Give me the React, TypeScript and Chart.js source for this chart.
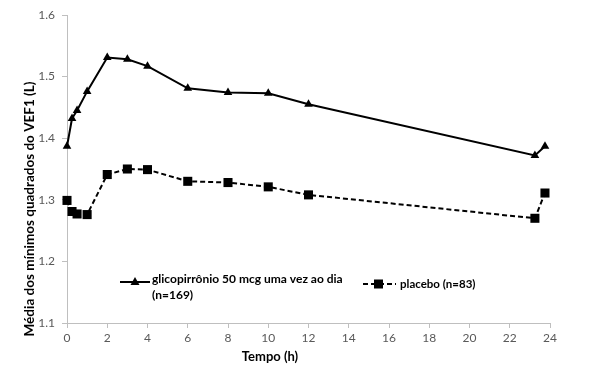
import React, { useEffect, useRef } from "react";
import { Chart, registerables } from "chart.js";

Chart.register(...registerables);

const hours = [0, 0.25, 0.5, 1, 2, 3, 4, 6, 8, 10, 12, 23.25, 23.75];
const glicoValues = [1.387, 1.432, 1.445, 1.476, 1.531, 1.528, 1.517, 1.481, 1.474, 1.473, 1.455, 1.372, 1.387];
const placeboValues = [1.299, 1.281, 1.277, 1.276, 1.341, 1.350, 1.349, 1.330, 1.328, 1.321, 1.308, 1.270, 1.311];
const glicoLabel = ["glicopirrônio 50 mcg uma vez ao dia", "(n=169)"];
const placeboLabel = "placebo (n=83)";
const yTitle = "Média dos mínimos quadrados do VEF1 (L)";
const xTitle = "Tempo (h)";

const FONT = "Lato, 'Liberation Sans', sans-serif";

const annotationPlugin = {
  id: "customLegendTitles",
  afterDraw(chart: any) {
    const ctx = chart.ctx;
    ctx.save();
    ctx.fillStyle = "#000";
    ctx.strokeStyle = "#000";
    ctx.lineWidth = 2;
    // glico sample
    const y1 = 282;
    ctx.setLineDash([]);
    ctx.beginPath();
    ctx.moveTo(120, y1);
    ctx.lineTo(150, y1);
    ctx.stroke();
    const tx = 135, tr = 5;
    ctx.beginPath();
    ctx.moveTo(tx, y1 - tr);
    ctx.lineTo(tx + tr * 0.9, y1 + tr * 0.6);
    ctx.lineTo(tx - tr * 0.9, y1 + tr * 0.6);
    ctx.closePath();
    ctx.fill();
    ctx.font = "bold 12px " + FONT;
    ctx.textBaseline = "middle";
    ctx.textAlign = "left";
    ctx.fillText(glicoLabel[0], 152, 279);
    ctx.fillText(glicoLabel[1], 152, 295);
    // placebo sample
    const y2 = 284;
    ctx.setLineDash([5, 3]);
    ctx.beginPath();
    ctx.moveTo(363, y2);
    ctx.lineTo(396, y2);
    ctx.stroke();
    ctx.setLineDash([]);
    ctx.fillRect(374, y2 - 4.5, 9, 9);
    ctx.font = "bold 11.5px " + FONT;
    ctx.fillText(placeboLabel, 400, 284);
    // axis titles
    ctx.font = "bold 13px " + FONT;
    ctx.textAlign = "center";
    ctx.fillText(xTitle, 270, 357);
    ctx.translate(30, 209);
    ctx.rotate(-Math.PI / 2);
    ctx.font = "bold 13.5px " + FONT;
    ctx.fillText(yTitle, 0, 0);
    ctx.restore();
  },
};

export default function App() {
  const ref = useRef<HTMLCanvasElement>(null);
  useEffect(() => {
    if (!ref.current) return;
    const chart = new Chart(ref.current, {
      type: "line",
      data: {
        datasets: [
          {
            label: glicoLabel.join(" "),
            data: hours.map((h, i) => ({ x: h, y: glicoValues[i] })),
            borderColor: "#000",
            backgroundColor: "#000",
            borderWidth: 2,
            pointStyle: "triangle",
            pointRadius: 5,
            pointBorderWidth: 0,
            tension: 0,
            clip: false,
          },
          {
            label: placeboLabel,
            data: hours.map((h, i) => ({ x: h, y: placeboValues[i] })),
            borderColor: "#000",
            backgroundColor: "#000",
            borderWidth: 2,
            borderDash: [5, 3],
            pointStyle: "rect",
            pointRadius: 6.4,
            pointBorderWidth: 0,
            tension: 0,
            clip: false,
          },
        ],
      },
      options: {
        responsive: false,
        animation: false,
        layout: { padding: { top: 15, right: 41, left: 0, bottom: 0 } },
        plugins: { legend: { display: false }, tooltip: { enabled: false } },
        scales: {
          x: {
            type: "linear",
            min: 0,
            max: 24,
            ticks: { stepSize: 2, color: "#595959", font: { family: FONT, size: 12 }, padding: 3 },
            grid: { drawOnChartArea: false, drawTicks: true, tickLength: 5, color: "#bfbfbf" },
            border: { color: "#bfbfbf", width: 1 },
            title: { display: false, text: xTitle },
            afterFit(scale: any) { scale.height = 53; },
          },
          y: {
            min: 1.1,
            max: 1.6,
            ticks: { stepSize: 0.1, color: "#595959", font: { family: FONT, size: 12 }, padding: 7, callback: (v: any) => Number(v).toFixed(1) },
            grid: { drawOnChartArea: false, drawTicks: true, tickLength: 5, color: "#bfbfbf" },
            border: { color: "#bfbfbf", width: 1 },
            title: { display: false, text: yTitle },
            afterFit(scale: any) { scale.width = 67; },
          },
        },
      },
      plugins: [annotationPlugin],
    } as any);
    return () => chart.destroy();
  }, []);
  return (
    <div style={{ position: "absolute", left: 0, top: 0, width: 591, height: 376, background: "#fff" }}>
      <canvas ref={ref} width={591} height={376} style={{ display: "block" }} />
    </div>
  );
}
